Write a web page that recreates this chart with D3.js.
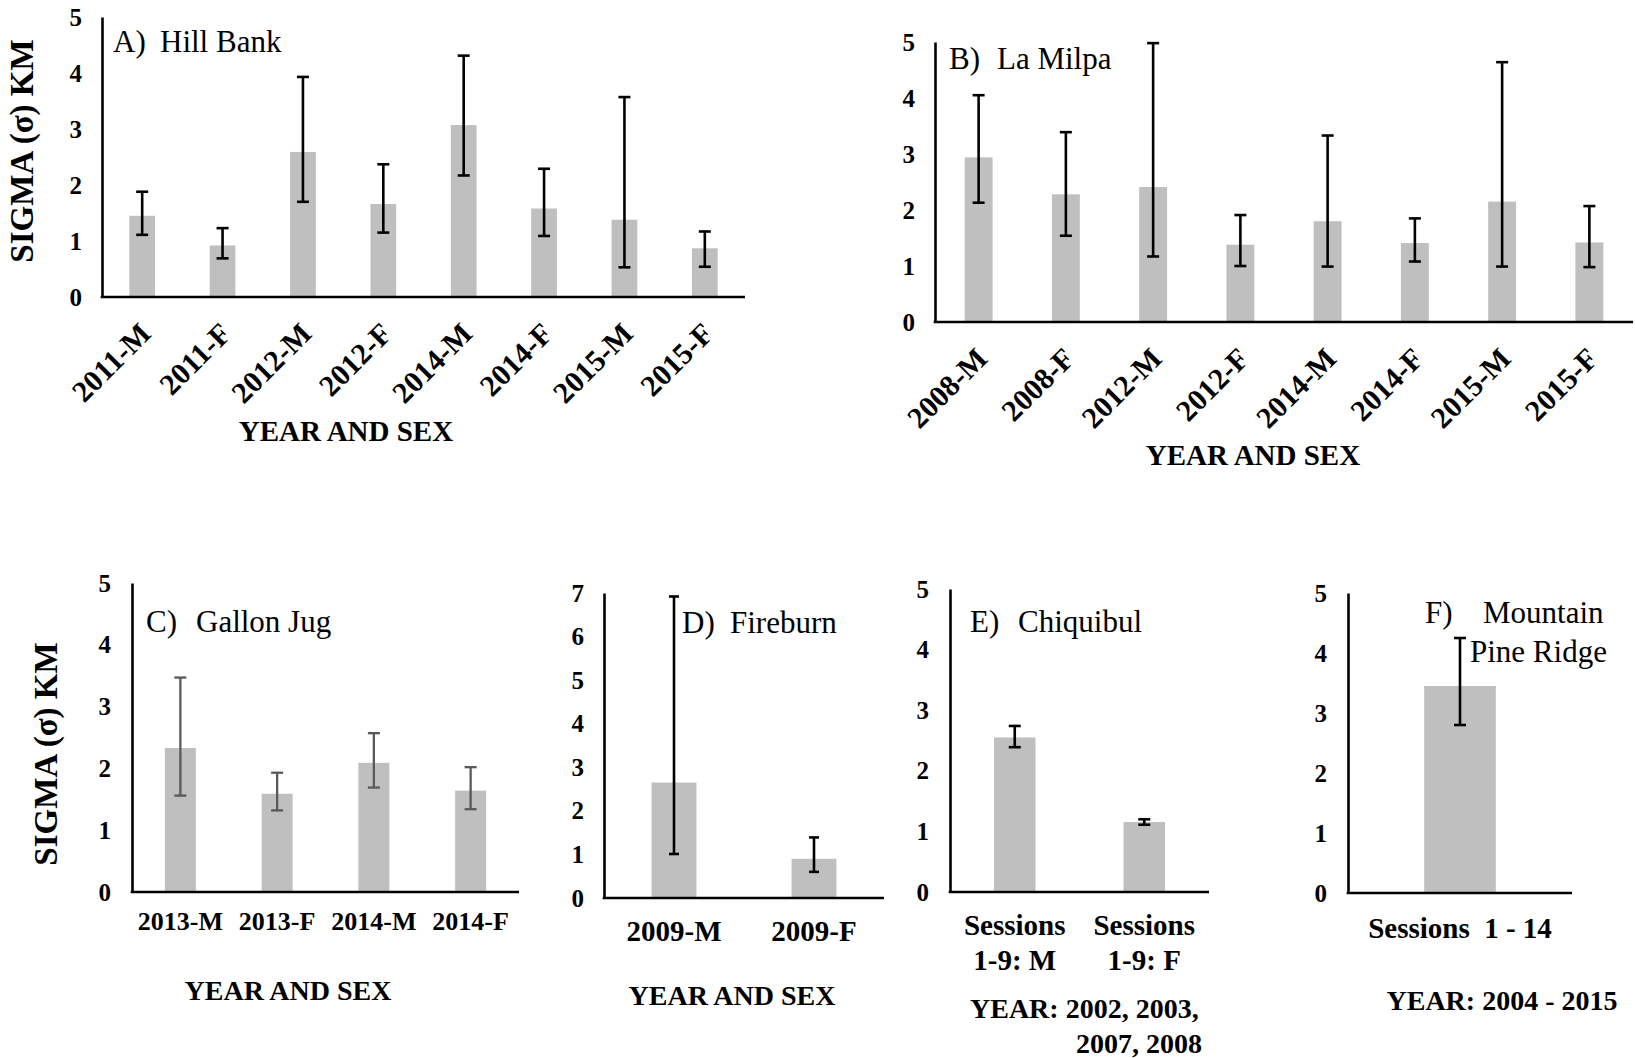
<!DOCTYPE html>
<html>
<head>
<meta charset="utf-8">
<script src="https://cdn.jsdelivr.net/npm/d3@7"></script>
<style>
  html, body { margin: 0; padding: 0; background: #fff; }
  svg { display: block; font-family: "Liberation Serif", "Times New Roman", Times, serif; }
</style>
</head>
<body>
<svg id="fig" width="1635" height="1058"></svg>
<script>
// ---- Sigma (km) estimates with lower / upper interval bounds, per site ----

// A) Hill Bank
const hillBankCats  = ["2011-M", "2011-F", "2012-M", "2012-F", "2014-M", "2014-F", "2015-M", "2015-F"];
const hillBankSigma = [1.45, 0.92, 2.59, 1.66, 3.07, 1.58, 1.38, 0.87];
const hillBankLower = [1.11, 0.69, 1.70, 1.15, 2.17, 1.09, 0.53, 0.54];
const hillBankUpper = [1.88, 1.23, 3.93, 2.37, 4.31, 2.29, 3.57, 1.17];

// B) La Milpa
const laMilpaCats  = ["2008-M", "2008-F", "2012-M", "2012-F", "2014-M", "2014-F", "2015-M", "2015-F"];
const laMilpaSigma = [2.94, 2.28, 2.41, 1.38, 1.80, 1.41, 2.15, 1.42];
const laMilpaLower = [2.13, 1.54, 1.17, 1.00, 0.99, 1.08, 0.99, 0.98];
const laMilpaUpper = [4.05, 3.39, 4.98, 1.91, 3.33, 1.85, 4.64, 2.07];

// C) Gallon Jug
const gallonJugCats  = ["2013-M", "2013-F", "2014-M", "2014-F"];
const gallonJugSigma = [2.33, 1.59, 2.09, 1.64];
const gallonJugLower = [1.56, 1.32, 1.69, 1.34];
const gallonJugUpper = [3.47, 1.93, 2.57, 2.02];

// D) Fireburn
const fireburnCats  = ["2009-M", "2009-F"];
const fireburnSigma = [2.65, 0.90];
const fireburnLower = [1.01, 0.60];
const fireburnUpper = [6.92, 1.39];

// E) Chiquibul
const chiquibulCats  = ["Sessions 1-9: M", "Sessions 1-9: F"];
const chiquibulLines = [["Sessions", "1-9: M"], ["Sessions", "1-9: F"]];
const chiquibulSigma = [2.55, 1.155];
const chiquibulLower = [2.39, 1.11];
const chiquibulUpper = [2.74, 1.20];

// F) Mountain Pine Ridge
const mprCats  = ["Sessions  1 - 14"];
const mprSigma = [3.45];
const mprLower = [2.80];
const mprUpper = [4.25];

// Axis tick values and titles
const ticksTo5 = [0, 1, 2, 3, 4, 5];
const ticksTo7 = [0, 1, 2, 3, 4, 5, 6, 7];
const yTitle = "SIGMA (\u03C3) KM";
const xTitleYearSex = "YEAR AND SEX";

// ---- Panel layout ----
const panels = [
  { letter: "A)", name: ["Hill Bank"], cats: hillBankCats, vals: hillBankSigma, lo: hillBankLower, hi: hillBankUpper,
    left: 102, right: 745, top: 17, base: 297, yMax: 5, ticks: ticksTo5, tickPad: 20,
    rotate: true, labelSize: 30,
    title: { lx: 113, nx: [160], ny: [52] },
    xTitle: [{ text: xTitleYearSex, x: 346, y: 441, anchor: "middle", size: 29 }],
    yTitle: { x: 22, y: 151 }, errColor: "#000", errWidth: 2.6 },
  { letter: "B)", name: ["La Milpa"], cats: laMilpaCats, vals: laMilpaSigma, lo: laMilpaLower, hi: laMilpaUpper,
    left: 935, right: 1633, top: 42, base: 322, yMax: 5, ticks: ticksTo5, tickPad: 20,
    rotate: true, labelSize: 30,
    title: { lx: 949, nx: [997], ny: [69] },
    xTitle: [{ text: xTitleYearSex, x: 1253, y: 465, anchor: "middle", size: 29 }],
    errColor: "#000", errWidth: 2.6 },
  { letter: "C)", name: ["Gallon Jug"], cats: gallonJugCats, vals: gallonJugSigma, lo: gallonJugLower, hi: gallonJugUpper,
    left: 132, right: 519, top: 583, base: 892, yMax: 5, ticks: ticksTo5, tickPad: 21,
    rotate: false, labelSize: 26, labelY: 930,
    title: { lx: 146, nx: [196], ny: [632] },
    xTitle: [{ text: xTitleYearSex, x: 288, y: 1000, anchor: "middle", size: 28 }],
    yTitle: { x: 46, y: 754 }, errColor: "#595959", errWidth: 2.3 },
  { letter: "D)", name: ["Fireburn"], cats: fireburnCats, vals: fireburnSigma, lo: fireburnLower, hi: fireburnUpper,
    left: 604, right: 884, top: 593, base: 898, yMax: 7, ticks: ticksTo7, tickPad: 20,
    rotate: false, labelSize: 29, labelY: 941,
    title: { lx: 682, nx: [730], ny: [633] },
    xTitle: [{ text: xTitleYearSex, x: 732, y: 1005, anchor: "middle", size: 28 }],
    errColor: "#000", errWidth: 2.6, capW: 10 },
  { letter: "E)", name: ["Chiquibul"], cats: chiquibulCats, lines: chiquibulLines, vals: chiquibulSigma, lo: chiquibulLower, hi: chiquibulUpper,
    left: 950, right: 1209, top: 589, base: 892, yMax: 5, ticks: ticksTo5, tickPad: 21,
    rotate: false, labelSize: 29, labelY: 935, lineGap: 35,
    title: { lx: 970, nx: [1018], ny: [632] },
    xTitle: [{ text: "YEAR: 2002, 2003,", x: 970, y: 1018, anchor: "start", size: 28 },
             { text: "2007, 2008", x: 1202, y: 1053, anchor: "end", size: 28 }],
    errColor: "#000", errWidth: 2.6 },
  { letter: "F)", name: ["Mountain", "Pine Ridge"], cats: mprCats, vals: mprSigma, lo: mprLower, hi: mprUpper,
    left: 1348, right: 1572, top: 593, base: 893, yMax: 5, ticks: ticksTo5, tickPad: 21,
    rotate: false, labelSize: 29, labelY: 938,
    title: { lx: 1425, nx: [1483, 1470], ny: [623, 662] },
    xTitle: [{ text: "YEAR: 2004 - 2015", x: 1502, y: 1010, anchor: "middle", size: 28 }],
    errColor: "#000", errWidth: 2.6 }
];

const svg = d3.select("#fig");
const BAR_FILL = "#bfbfbf";
const SERIF = '"Liberation Serif", "Times New Roman", Times, serif';

function drawPanel(p) {
  const g = svg.append("g");

  const x = d3.scaleBand().domain(p.cats).range([p.left, p.right])
    .paddingInner(0.68).paddingOuter(0.34);
  const y = d3.scaleLinear().domain([0, p.yMax]).range([p.base, p.top]);
  const cx = d => x(d) + x.bandwidth() / 2;

  // bars
  g.selectAll("rect.bar").data(p.cats).join("rect")
    .attr("class", "bar")
    .attr("x", d => x(d))
    .attr("width", x.bandwidth())
    .attr("y", (d, i) => y(p.vals[i]))
    .attr("height", (d, i) => y(0) - y(p.vals[i]))
    .attr("fill", BAR_FILL);

  // error bars
  const capW = p.capW || 12;
  const eb = g.selectAll("g.err").data(p.cats).join("g").attr("class", "err")
    .attr("stroke", p.errColor).attr("stroke-width", p.errWidth).attr("fill", "none");
  eb.append("line")
    .attr("x1", cx).attr("x2", cx)
    .attr("y1", (d, i) => y(p.lo[i])).attr("y2", (d, i) => y(p.hi[i]));
  eb.append("line")
    .attr("x1", d => cx(d) - capW / 2).attr("x2", d => cx(d) + capW / 2)
    .attr("y1", (d, i) => y(p.hi[i])).attr("y2", (d, i) => y(p.hi[i]));
  eb.append("line")
    .attr("x1", d => cx(d) - capW / 2).attr("x2", d => cx(d) + capW / 2)
    .attr("y1", (d, i) => y(p.lo[i])).attr("y2", (d, i) => y(p.lo[i]));

  // y axis line (no tick marks)
  const yAxis = g.append("g").attr("transform", `translate(${p.left},0)`)
    .call(d3.axisLeft(y).tickValues(p.ticks).tickSize(0).tickFormat(""));
  yAxis.select(".domain").attr("stroke", "#000").attr("stroke-width", 2.6);
  yAxis.selectAll(".tick").remove();

  // bold numeric y labels
  const yl = g.append("g")
    .attr("font-family", SERIF).attr("font-size", 25).attr("font-weight", "bold");
  yl.selectAll("text").data(p.ticks).join("text")
    .attr("x", p.left - p.tickPad)
    .attr("y", d => y(d))
    .attr("dy", "0.34em")
    .attr("text-anchor", "end")
    .attr("fill", "#000")
    .style("font-size", "25px").style("font-weight", "bold")
    .text(d => String(d));

  // x axis line
  const xAxis = g.append("g").attr("transform", `translate(0,${p.base})`)
    .call(d3.axisBottom(x).tickSize(0).tickFormat(""));
  xAxis.select(".domain").attr("stroke", "#000").attr("stroke-width", 2.6)
    .attr("d", `M${p.left - 1.3},0H${p.right}`);
  xAxis.selectAll(".tick").remove();

  // category labels
  if (p.rotate) {
    g.selectAll("text.cat").data(p.cats).join("text")
      .attr("class", "cat")
      .attr("transform", d => `translate(${cx(d) + 3},${p.base + 31}) rotate(-45)`)
      .attr("text-anchor", "end").attr("dy", "0.35em")
      .style("font-size", p.labelSize + "px").style("font-weight", "bold")
      .text(d => d);
  } else {
    const t = g.selectAll("text.cat").data(p.cats).join("text")
      .attr("class", "cat")
      .attr("x", cx).attr("y", p.labelY)
      .attr("text-anchor", "middle")
      .style("font-size", p.labelSize + "px").style("font-weight", "bold")
      .style("white-space", "pre");
    if (p.lines) {
      t.selectAll("tspan").data((d, i) => p.lines[i]).join("tspan")
        .attr("x", function () { return d3.select(this.parentNode).attr("x"); })
        .attr("dy", (d, j) => j === 0 ? 0 : p.lineGap)
        .text(d => d);
    } else {
      t.text(d => d);
    }
  }

  // x axis title
  p.xTitle.forEach(tt => {
    g.append("text").attr("x", tt.x).attr("y", tt.y)
      .attr("text-anchor", tt.anchor)
      .style("font-size", tt.size + "px").style("font-weight", "bold")
      .text(tt.text);
  });

  // y axis title
  if (p.yTitle) {
    g.append("text")
      .attr("transform", `translate(${p.yTitle.x},${p.yTitle.y}) rotate(-90)`)
      .attr("text-anchor", "middle").attr("dominant-baseline", "central")
      .style("font-size", "33px").style("font-weight", "bold")
      .text(yTitle);
  }

  // panel title
  g.append("text").attr("x", p.title.lx).attr("y", p.title.ny[0])
    .style("font-size", "31px").text(p.letter);
  p.name.forEach((nm, k) => {
    g.append("text").attr("x", p.title.nx[k]).attr("y", p.title.ny[k])
      .style("font-size", "31px").text(nm);
  });
}

panels.forEach(drawPanel);
</script>
</body>
</html>
